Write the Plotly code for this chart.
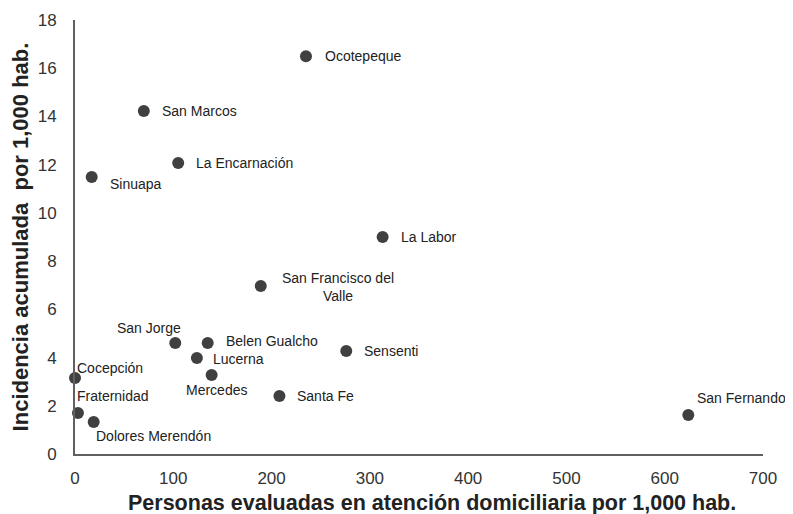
import plotly.graph_objects as go

names = ["Ocotepeque", "San Marcos", "La Encarnación", "Sinuapa", "La Labor",
         "San Francisco del<br>Valle", "San Jorge", "Belen Gualcho", "Lucerna",
         "Mercedes", "Sensenti", "Santa Fe", "San Fernando", "Cocepción",
         "Fraternidad", "Dolores Merendón"]
x_vals = [235, 70, 105, 17, 313, 189, 102, 135, 124, 139, 276, 208, 624, 0, 3, 19]
y_vals = [16.5, 14.23, 12.07, 11.49, 9.0, 6.97, 4.6, 4.6, 3.98, 3.28, 4.27, 2.41, 1.62, 3.15, 1.70, 1.33]
x_title = "<b>Personas evaluadas en atención domiciliaria por 1,000 hab.</b>"
y_title = "<b>Incidencia acumulada  por 1,000 hab.</b>"

# label offsets in pixels (xanchor, xshift, yshift)
label_style = {
    "Ocotepeque": ("left", 17, 0),
    "San Marcos": ("left", 16, 0),
    "La Encarnación": ("left", 16, 0),
    "Sinuapa": ("left", 16, -7),
    "La Labor": ("left", 16, 0),
    "San Francisco del<br>Valle": ("center", 77, -1),
    "San Jorge": ("center", -26, 15),
    "Belen Gualcho": ("left", 16, 2),
    "Lucerna": ("left", 14, -1),
    "Mercedes": ("center", 5, -15),
    "Sensenti": ("left", 16, 0),
    "Santa Fe": ("left", 16, 0),
    "San Fernando": ("left", 7, 17),
    "Cocepción": ("left", 0, 10),
    "Fraternidad": ("left", -3, 17),
    "Dolores Merendón": ("left", 0, -14),
}

fig = go.Figure()
fig.add_trace(go.Scatter(
    x=x_vals, y=y_vals, mode="markers",
    marker=dict(size=12, color="#404040"),
    cliponaxis=False, showlegend=False,
))

for n, xv, yv in zip(names, x_vals, y_vals):
    anchor, dx, dy = label_style[n]
    fig.add_annotation(
        x=xv, y=yv, text=n, showarrow=False,
        xanchor=anchor, yanchor="middle", xshift=dx, yshift=dy,
        font=dict(family="Liberation Sans, Arial", size=14, color="#222222"),
        align="center",
    )

fig.add_annotation(
    x=0.5, y=0, xref="paper", yref="paper", text=x_title, showarrow=False,
    xanchor="center", yanchor="middle", xshift=13, yshift=-49,
    font=dict(family="Liberation Sans, Arial", size=21.5, color="#222222"),
)

fig.update_layout(
    width=785, height=506,
    margin=dict(l=67, r=30, t=12, b=60, autoexpand=False),
    plot_bgcolor="white", paper_bgcolor="white",
    font=dict(family="Liberation Sans, Arial", color="#333333"),
)
fig.update_xaxes(
    range=[0, 700], dtick=100, showgrid=False, zeroline=False,
    showline=True, linecolor="#606060", linewidth=2,
    ticks="", tickfont=dict(size=17, color="#333333"), ticklabelstandoff=8,
)
fig.update_yaxes(
    range=[0, 18], dtick=2, showgrid=False, zeroline=False,
    showline=True, linecolor="#606060", linewidth=2,
    ticks="", tickfont=dict(size=17, color="#333333"), ticklabelstandoff=13,
    title=dict(text=y_title, font=dict(size=22, color="#222222"), standoff=5),
)

fig.write_html("out.html")
